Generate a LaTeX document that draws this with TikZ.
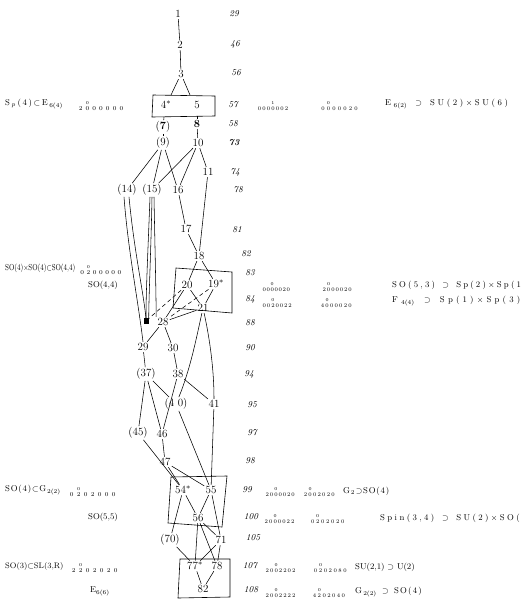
\documentclass[tikz,border=0pt]{standalone}
\usepackage{fontspec}
\usepackage{amssymb}
\begin{document}
\makeatletter
% weighted Dynkin diagram: [cell width]{row digits}{digit above}{its position}
\newcommand\dk[4][6.8pt]{%
  \makebox[0pt][l]{\hspace{\dimexpr #1*#4 - #1\relax}\makebox[#1]{\raisebox{2.3ex}{\fontsize{4.5}{5}\selectfont #3}}}%
  \@tfor\dk@d:=#2\do{\makebox[#1]{\dk@d}}}
% letter-spaced note: [extra space after each item]{items}
\newcommand\spc[2][2pt]{\@tfor\sp@c:=#2\do{\sp@c\kern#1}}
\makeatother
% a note squeezed to a given width and height
\newcommand\fitto[3]{\resizebox{#1}{#2}{#3}}
\begin{tikzpicture}[x=1pt,y=-1pt,
  v/.style={inner sep=1.2pt, font=\fontsize{11}{12}\selectfont},
  ed/.style={line width=0.55pt},
  dsh/.style={line width=0.55pt, dash pattern=on 4pt off 3pt},
  grp/.style={line width=0.6pt},
  dimlab/.style={font=\fontsize{9}{10}\selectfont\itshape},
  side/.style={font=\fontsize{8.5}{9}\selectfont, anchor=west, inner sep=0pt},
  dyn/.style={font=\fontsize{6}{7}\selectfont, anchor=west, inner sep=0pt},
  dynr/.style={font=\fontsize{5.5}{6}\selectfont, anchor=west, inner sep=0pt},
]
\useasboundingbox (0,0) rectangle (524,603);
\fill[white] (0,0) rectangle (524,603);

% ---- orbit nodes ----
\node[v] (n1) at (178,14) {1};
\node[v] (n2) at (180,45) {2};
\node[v] (n3) at (181,74) {3};
\node[v] (n4) at (166,105) {4$^{*}$};
\node[v] (n5) at (197,105) {5};
\node[v] (n7) at (163,127) {(\textbf{7})};
\node[v] (n8) at (197,124) {\textbf{8}};
\node[v] (n9) at (163,143) {(9)};
\node[v] (n10) at (198,143) {10};
\node[v] (n11) at (208,172) {11};
\node[v] (n14) at (127,190) {(14)};
\node[v] (n15) at (152,190) {(15)};
\node[v] (n16) at (178,190) {16};
\node[v] (n17) at (186,229) {17};
\node[v] (n18) at (199,256) {18};
\node[v] (n20) at (187,285) {20};
\node[v] (n19) at (216,284) {19$^{*}$};
\node[v] (n21) at (203,308) {21};
\node[v, inner sep=0pt] (n27) at (146,321) {\rule{5pt}{6pt}};
\node[v] (n28) at (163,322) {28};
\node[v] (n29) at (143,347) {29};
\node[v] (n30) at (173,348) {30};
\node[v] (n37) at (146,374) {(37)};
\node[v] (n38) at (178,374) {38};
\node[v] (n40) at (176,404) {(4\,\,0)};
\node[v] (n41) at (214,404) {41};
\node[v] (n45) at (138,433) {(45)};
\node[v] (n46) at (162,434) {46};
\node[v] (n47) at (165,462) {47};
\node[v] (n54) at (183,490) {54$^{*}$};
\node[v] (n55) at (211,490) {55};
\node[v] (n56) at (198,518) {56};
\node[v] (n70) at (170,540) {(70)};
\node[v] (n71) at (221,540) {71};
\node[v] (n77) at (195,566) {77$^{*}$};
\node[v] (n78) at (217,566) {78};
\node[v] (n82) at (203,589) {82};

% ---- boxes ----
\draw[grp] (153,95) -- (215,96) -- (215,116) -- (152,117) -- cycle;
\draw[grp] (176,268) -- (232,272) -- (232,313) -- (173,308) -- cycle;
\draw[grp] (171,477) -- (227,476) -- (222,527) -- (168,523) -- cycle;
\draw[grp] (180,559) -- (230,559) -- (230,597) -- (178,598) -- cycle;

% ends of the connectors that stop at a box edge
\coordinate (t4) at (171,95);
\coordinate (t5) at (190,95);
\coordinate (u4) at (164,117);
\coordinate (u5) at (197,116);

% ---- connectors ----
\draw[ed] (n1) -- (n2);
\draw[ed] (n2) -- (n3);
\draw[ed] (n3) -- (t4);
\draw[ed] (n3) -- (t5);
\draw[ed] (u4) -- (n7);
\draw[ed] (n7) -- (n9);
\draw[ed] (u5) -- (n8);
\draw[ed] (n8) -- (n10);
\draw[ed] (n9) -- (n14);
\draw[ed] (n9) -- (n15);
\draw[ed] (n9) -- (n16);
\draw[ed] (n10) -- (n15);
\draw[ed] (n10) -- (n16);
\draw[ed] (n10) -- (n11);
\draw[ed] (n11) -- (n18);
\draw[ed] (n16) -- (n17);
\draw[ed] (n17) -- (n18);
\draw[ed] (n18) -- (n20);
\draw[ed] (n18) -- (n19);
% long strands from (14) and (15)
\draw[ed] ([xshift=-3pt]n14.south) .. controls (128,250) and (138,300) .. (n29.north);
\draw[ed] ([xshift=2pt]n14.south) .. controls (134,250) and (143,290) .. (n27.north);
\draw[ed] ([xshift=-2pt]n15.south) .. controls (148,250) and (146,290) .. (n27.north);
\draw[ed] (n15.south) .. controls (151,250) and (149,290) .. (n27.north east);
\draw[ed] ([xshift=2pt]n15.south) .. controls (155,250) and (156,290) .. (n28.north west);
\draw[dsh] (n20) -- (n27);
\draw[dsh] (n19) -- (n28);
\draw[ed] (n20) -- (n28);
\draw[ed] (n20) -- (n21);
\draw[ed] (n19) -- (n21);
\draw[ed] (n21) -- (n28);
\draw[ed] (n28) -- (n29);
\draw[ed] (n28) -- (n30);
\draw[ed] (n29) -- (n37);
\draw[ed] (n30) -- (n38);
\draw[ed] (n21) .. controls (196,340) and (190,370) .. (n40);
\draw[ed] (n21) .. controls (210,340) and (214,370) .. (n41);
\draw[ed] (n38) -- (n41);
\draw[ed] (n38) -- (n46);
\draw[ed] (n37) -- (n40);
\draw[ed] (n37) -- (n45);
\draw[ed] (n37) -- (n46);
\draw[ed] (n40) -- (n55);
\draw[ed] (n41) -- (n55);
\draw[ed] (n45) -- (n54);
\draw[ed] (n46) -- (n47);
\draw[ed] (n47) -- (n54);
\draw[ed] (n47) -- (n55);
\draw[ed] (n54) -- (n56);
\draw[ed] (n55) -- (n56);
\draw[ed] (n54) -- (n70);
\draw[ed] (n55) -- (n71);
\draw[ed] (n56) -- (n71);
\draw[ed] (n56) -- (n77);
\draw[ed] (n56) -- (n78);
\draw[ed] (n70) -- (n77);
\draw[ed] (n71) -- (n77);
\draw[ed] (n71) -- (n78);
\draw[ed] (n77) -- (n82);
\draw[ed] (n78) -- (n82);

% ---- dimension column ----
\foreach \d/\y/\x in {29/14/234, 46/44/235, 56/73/236, 57/105/233, 58/124/233,
  \textbf{73}/143/234, 74/172/235, 78/190/238, 81/230/237, 82/254/246,
  83/273/250, 84/299/250, 88/323/250, 90/348/250, 94/374/249, 95/405/252,
  97/433/252, 98/461/250, 99/490/247, 100/517/251, 105/538/253, 107/566/250, 108/590/251}
  \node[dimlab] at (\x,\y) {\d};

% ---- left-hand notes ----
\node[side] at (5,104) {\spc[1.6pt]{S{$_p$}(4){$\subset$}E{$_{6(4)}$}}};
\node[dyn] at (77,106) {\dk{2000000}{0}{2}};
\node[side] at (5,268) {\fitto{70pt}{6.5pt}{SO(4)$\times$SO(4)$\subset$SO(4,4)}};
\node[dyn] at (79,270) {\dk[6.2pt]{0200000}{0}{2}};
\node[side] at (88,285) {SO(4,4)};
\node[side] at (5,490) {\spc[0.8pt]{SO(4){$\subset$}G{$_{2(2)}$}}};
\node[dyn] at (68,492) {\dk[7pt]{0202000}{0}{2}};
\node[side] at (88,517) {SO(5,5)};
\node[side, font=\fontsize{8}{9}\selectfont] at (5,566) {SO(3)$\subset$SL(3,R)};
\node[dyn] at (70,568) {\dk[7pt]{2202020}{0}{2}};
\node[side] at (90,591) {E$_{6(6)}$};

% ---- right-hand notes ----
\node[dynr] at (257,106) {\dk[4.5pt]{0000002}{1}{4}};
\node[dynr] at (320,106) {\dk[5.5pt]{0000020}{0}{2}};
\node[side] at (385,104) {\spc[2.6pt]{E{$_{6(2)}$}{\ }{$\supset$}{\ }SU(2){$\times$}SU(6)}};
\node[dynr] at (262,287) {\dk[4pt]{0000020}{0}{3}};
\node[dynr] at (322,287) {\dk[4.3pt]{2000020}{0}{2}};
\node[side] at (392,285) {\spc[2.2pt]{SO(5,3){\ }{$\supset$}{\ }Sp(2){$\times$}Sp(1}};
\node[dynr] at (262,303) {\dk[4.3pt]{0020022}{0}{3}};
\node[dynr] at (320,303) {\dk[4.6pt]{4000020}{0}{2}};
\node[side] at (392,301) {\spc[3.2pt]{F{$_{4(4)}$}{\ }{$\supset$}{\ }Sp(1){$\times$}Sp(3)}};
\node[dynr] at (265,492) {\dk[4.3pt]{2000020}{0}{3}};
\node[dynr] at (303,492) {\dk[4.6pt]{2002020}{0}{2}};
\node[side] at (343,491) {\spc[0.8pt]{G{$_2$}{$\supset$}SO(4)}};
\node[dynr] at (264,519) {\dk[4.4pt]{2000022}{0}{3}};
\node[dynr] at (310,519) {\dk[5pt]{0202020}{0}{2}};
\node[side] at (380,518) {\spc[2.4pt]{Spin(3,4){\ }{$\supset$}{\ }SU(2){$\times$}SO(}};
\node[dynr] at (265,568) {\dk[4.4pt]{2002202}{0}{3}};
\node[dynr] at (313,568) {\dk[4.9pt]{0202080}{0}{2}};
\node[side] at (355,567) {SU(2,1) $\supset$ U(2)};
\node[dynr] at (265,593) {\dk[4.4pt]{2002222}{0}{3}};
\node[dynr] at (312,593) {\dk[4.8pt]{4202040}{0}{2}};
\node[side] at (355,592) {\spc[1.2pt]{G{$_{2(2)}$}{\ }{$\supset$}{\ }SO(4)}};
\end{tikzpicture}
\end{document}
